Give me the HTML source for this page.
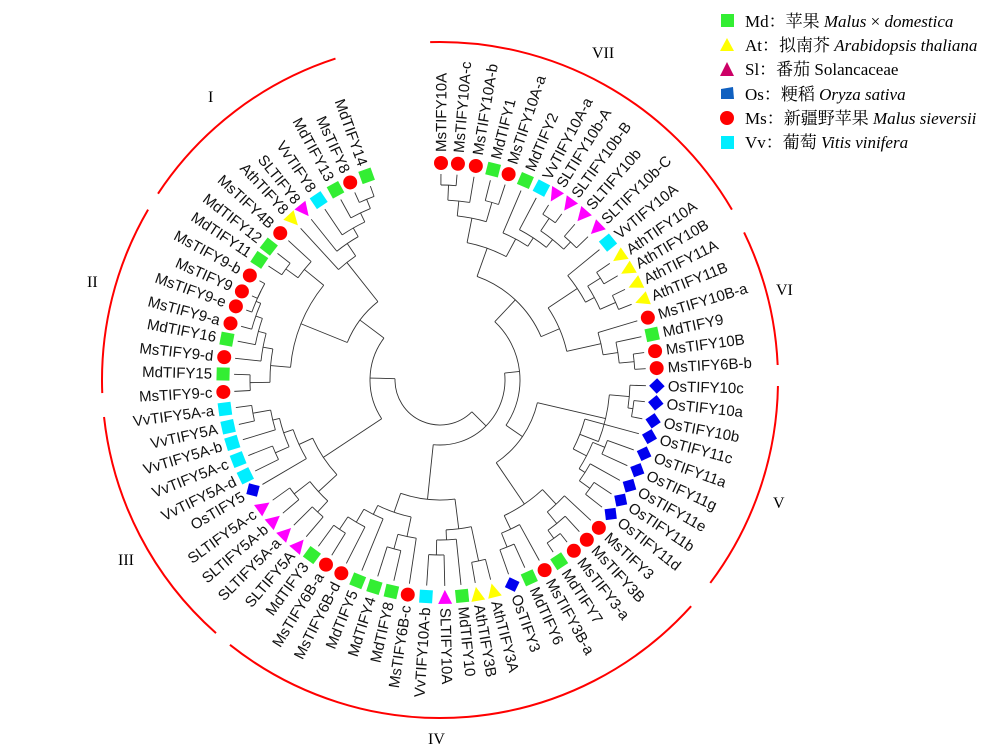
<!DOCTYPE html>
<html><head><meta charset="utf-8">
<style>
html,body{margin:0;padding:0;background:#fff;}
#c{position:absolute;left:0;top:0;}
</style></head>
<body>
<svg id="c" width="1000" height="749" viewBox="0 0 1000 749" xmlns="http://www.w3.org/2000/svg">
<g id="arcs" fill="none" stroke="#ff0000" stroke-width="2"></g>
<g id="tree" fill="none" stroke="#333" stroke-width="0.9"></g>
<g id="marks"></g>
<g id="labels" font-family="Liberation Sans, Arial, sans-serif" font-size="15" fill="#111"></g>
<g font-family="Liberation Serif, serif" font-size="16" fill="#000">
<text x="208" y="102">I</text>
<text x="87" y="287">II</text>
<text x="118" y="565">III</text>
<text x="428" y="744">IV</text>
<text x="773" y="508">V</text>
<text x="776" y="295">VI</text>
<text x="592" y="58">VII</text>
</g>
<g font-family="Liberation Serif, 'Noto Serif CJK SC', serif" font-size="17" fill="#000">
<rect x="721" y="14" width="13" height="13" fill="#33ee33"/>
<text x="745" y="27">Md：苹果 <tspan font-style="italic">Malus</tspan> × <tspan font-style="italic">domestica</tspan></text>
<polygon points="727,38 720,51 734,51" fill="#ffff00"/>
<text x="745" y="51">At：拟南芥 <tspan font-style="italic">Arabidopsis thaliana</tspan></text>
<polygon points="727,62 720,76 734,76" fill="#cc0066"/>
<text x="745" y="75">Sl：番茄 Solancaceae</text>
<polygon points="721,89 733,87 734,99 721,99" fill="#1060c0"/>
<text x="745" y="100">Os：粳稻 <tspan font-style="italic">Oryza sativa</tspan></text>
<circle cx="727" cy="118" r="7" fill="#ff0000"/>
<text x="745" y="124">Ms：新疆野苹果 <tspan font-style="italic">Malus  sieversii</tspan></text>
<rect x="721" y="136" width="13" height="13" fill="#00eeff"/>
<text x="745" y="148">Vv：葡萄 <tspan font-style="italic">Vitis vinifera</tspan></text>
</g>
</svg>
<script>
var CX=440,CY=380,NS="http://www.w3.org/2000/svg";
var L=[
["MsTIFY10A","Ms",441,163],["MsTIFY10A-c","Ms",458,163],["MsTIFY10A-b","Ms",476,165],["MdTIFY1","Md",493,170],
["MsTIFY10A-a","Ms",509,173],["MdTIFY2","Md",526,179],["VvTIFY10A-a","Vv",542,187],["SLTIFY10b-A","Sl",556,193],
["SLTIFY10b-B","Sl",569,204],["SLTIFY10b","Sl",582,216],["SLTIFY10b-C","Sl",597,228],["VvTIFY10A","Vv",610,241],
["AthTIFY10A","At",622,255],["AthTIFY10B","At",631,268],["AthTIFY11A","At",638,283],["AthTIFY11B","At",645,299],
["MsTIFY10B-a","Ms",650,317],["MdTIFY9","Md",654,334],["MsTIFY10B","Ms",656,351],["MsTIFY6B-b","Ms",658,368],
["OsTIFY10c","Os",658,386],["OsTIFY10a","Os",657,403],["OsTIFY10b","Os",654,421],["OsTIFY11c","Os",651,437],
["OsTIFY11a","Os",645,454],["OsTIFY11g","Os",639,471],["OsTIFY11e","Os",630,486],["OsTIFY11b","Os",622,501],
["OsTIFY11d","Os",612,515],["MsTIFY3","Ms",599,528],["MsTIFY3B","Ms",587,540],["MsTIFY3-a","Ms",574,551],
["MdTIFY7","Md",559,561],["MsTIFY3B-a","Ms",544,569],["MdTIFY6","Md",529,577],["OsTIFY3","Os",512,584],
["AthTIFY3A","At",493,589],["AthTIFY3B","At",477,593],["MdTIFY10","Md",462,595],["SLTIFY10A","Sl",445,596],
["VvTIFY10A-b","Vv",426,596],["MsTIFY6B-c","Ms",408,593],["MdTIFY8","Md",392,589],["MdTIFY4","Md",375,585],
["MdTIFY5","Md",358,580],["MsTIFY6B-d","Ms",342,572],["MsTIFY6B-a","Ms",327,563],["MdTIFY3","Md",312,555],
["SLTIFY5A","Sl",300,544],["SLTIFY5A-a","Sl",287,532],["SLTIFY5A-b","Sl",276,519],["SLTIFY5A-c","Sl",266,505],
["OsTIFY5","Os",253,490],["VvTIFY5A-d","Vv",245,476],["VvTIFY5A-c","Vv",237,460],["VvTIFY5A-b","Vv",232,443],
["VvTIFY5A","Vv",227,427],["VvTIFY5A-a","Vv",225,409],["MsTIFY9-c","Ms",223,392],["MdTIFY15","Md",222,374],
["MsTIFY9-d","Ms",223,357],["MdTIFY16","Md",226,339],["MsTIFY9-a","Ms",229,323],["MsTIFY9-e","Ms",235,306],
["MsTIFY9","Ms",241,291],["MsTIFY9-b","Ms",249,275],["MdTIFY11","Md",258,259],["MdTIFY12","Md",268,246],
["MsTIFY4B","Ms",279,232],["AthTIFY8","At",293,220],["SLTIFY8","Sl",303,209],["VvTIFY8","Vv",318,199],
["MdTIFY13","Md",335,189],["MsTIFY8","Ms",350,182],["MdTIFY14","Md",366,174]];
var ang=L.map(function(d){var a=Math.atan2(d[3]-CY,d[2]-CX)*180/Math.PI;if(a<-95)a+=360;return a;});
function P(r,a){var t=a*Math.PI/180;return [CX+r*Math.cos(t),CY+r*Math.sin(t)];}
function el(g,tag,at,txt){var e=document.createElementNS(NS,tag);for(var k in at)e.setAttribute(k,at[k]);if(txt)e.textContent=txt;document.getElementById(g).appendChild(e);return e;}
var col={Md:"#33ee33",Ms:"#ff0000",At:"#ffff00",Sl:"#ff00ff",Os:"#0000ee",Vv:"#00eeff"};
L.forEach(function(d,i){
 var a=ang[i],p=P(217,a),t=d[1],tr="translate("+p[0].toFixed(1)+","+p[1].toFixed(1)+") rotate("+a.toFixed(1)+")";
 if(t=="Ms")el("marks","circle",{cx:p[0],cy:p[1],r:7,fill:col[t]});
 else if(t=="Md"||t=="Vv")el("marks","rect",{x:-6.5,y:-6.5,width:13,height:13,fill:col[t],transform:tr});
 else if(t=="Os")el("marks","rect",{x:-5.5,y:-5.5,width:11,height:11,fill:col[t],transform:tr+" rotate(45)"});
 else el("marks","polygon",{points:"-7,-7 7,0 -7,7",fill:col[t],transform:tr+" rotate(180)"});
 var q=P(228,a);
 if(Math.cos(a*Math.PI/180)>=-0.01)
  el("labels","text",{x:0,y:5,transform:"translate("+q[0].toFixed(1)+","+q[1].toFixed(1)+") rotate("+a.toFixed(1)+")"},d[0]);
 else
  el("labels","text",{x:0,y:5,"text-anchor":"end",transform:"translate("+q[0].toFixed(1)+","+q[1].toFixed(1)+") rotate("+(a+180).toFixed(1)+")"},d[0]);
});
function N(r){return {r:r,c:Array.prototype.slice.call(arguments,1)};}
function R(n){return typeof n=="number"?206:n.r;}
function lay(n){
 if(typeof n=="number")return ang[n];
 var as=n.c.map(lay),mn=Math.min.apply(null,as),mx=Math.max.apply(null,as);
 n.c.forEach(function(ch,k){var a=P(n.r,as[k]),b=P(R(ch),as[k]);el("tree","line",{x1:a[0],y1:a[1],x2:b[0],y2:b[1]});});
 var s=P(n.r,mn),e=P(n.r,mx);
 el("tree","path",{d:"M"+s[0]+","+s[1]+" A"+n.r+","+n.r+" 0 "+(mx-mn>180?1:0)+" 1 "+e[0]+","+e[1]});
 return (mn+mx)/2;
}
var g7=N(140,N(165,N(180,N(195,0,1),2),N(185,3,4)),N(160,5,N(170,6,N(180,N(195,7,8),N(190,9,10)))));
var gAt=N(165,11,N(175,N(190,12,13),N(192,14,15)));
var g6=N(165,16,N(180,17,N(195,18,19)));
var g10c=N(170,N(190,20,N(195,21,22)),N(150,23,N(165,N(178,24,25),N(172,26,N(185,27,28)))));
var gV3=N(150,N(170,29,N(185,30,N(195,31,32))),N(165,33,N(180,34,35)));
var gIV=N(120,N(150,N(185,36,37),N(160,38,N(175,39,40))),N(140,N(160,41,N(175,42,43)),N(150,44,N(165,45,N(180,46,47)))));
var gIII=N(140,N(165,N(180,48,49),N(185,50,51)),N(155,52,N(165,N(180,53,54),N(172,55,N(190,56,57)))));
var gII=N(150,N(170,N(190,58,59),N(180,60,N(188,61,N(195,62,N(200,63,N(200,64,65)))))),N(175,N(190,66,67),68));
var gI=N(150,69,N(165,70,N(175,71,N(185,72,N(195,73,74)))));
var top_=N(80,N(110,g7,N(130,gAt,g6)),N(100,g10c,gV3));
var root=N(45,N(65,top_,gIV),N(70,gIII,N(100,gII,gI)));
lay(root);
// red arcs (gapped)
var segs=[[334,54,157,193],[147,209,103,393],[104,417,217,632],[229,646,692,607],[709,582,778,386],[778,365,745,232],[733,209,430,37]];
segs.forEach(function(s){
 var a1=Math.atan2(s[1]-CY,s[0]-CX)*180/Math.PI,a2=Math.atan2(s[3]-CY,s[2]-CX)*180/Math.PI;
 var d=a2-a1;while(d<0)d+=360;while(d>=360)d-=360;
 if(d>180){var t=a1;a1=a2;a2=t;d=360-d;}
 var p=P(338,a1),q=P(338,a2);
 el("arcs","path",{d:"M"+p[0]+","+p[1]+" A338,338 0 0 1 "+q[0]+","+q[1]});
});
</script>
</body></html>
